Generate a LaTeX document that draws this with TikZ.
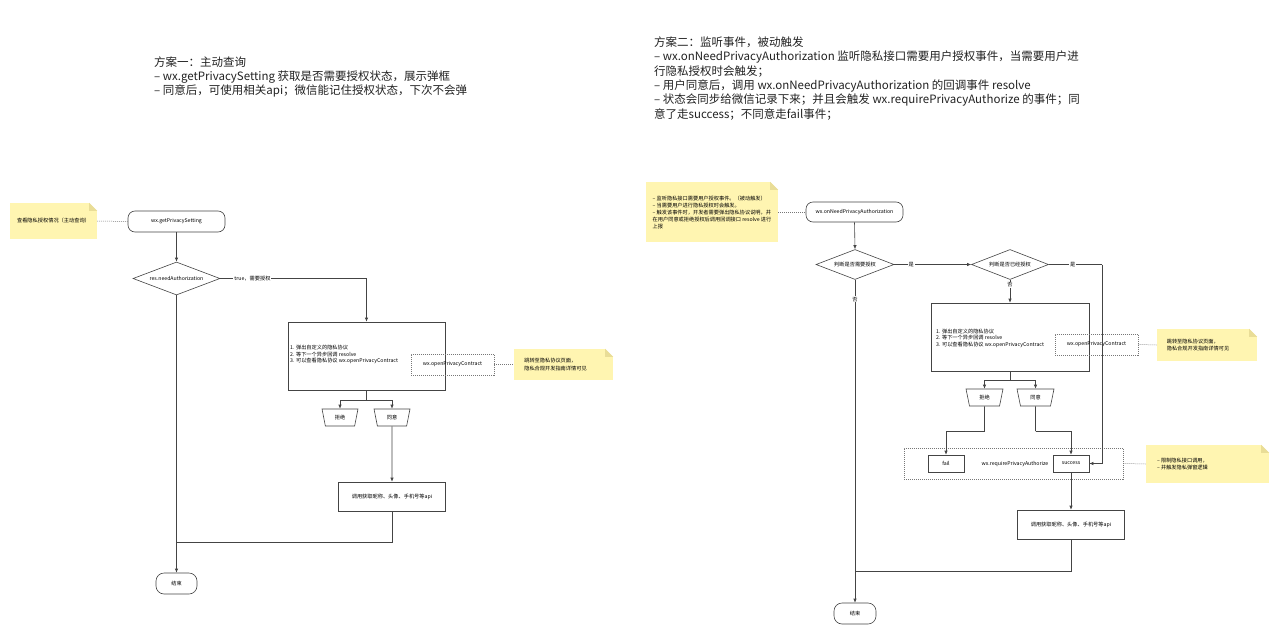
\documentclass[tikz,border=0pt]{standalone}
\usepackage{fontspec}
\setmainfont{Noto Sans CJK SC}
\usetikzlibrary{shapes.geometric,arrows.meta}
\definecolor{notefill}{HTML}{FFF5B1}
\definecolor{notefold}{HTML}{E9DD97}
\definecolor{ln}{HTML}{444444}
\definecolor{dl}{HTML}{777777}
\definecolor{tx}{HTML}{222222}
\tikzset{
  small/.style={font=\fontsize{5.2}{6.5}\selectfont},
  ttl/.style={font=\fontsize{11.5}{14.3}\selectfont, align=left, anchor=west, inner sep=0, text=tx},
  ln/.style={draw=ln, line width=0.6pt},
  arr/.style={ln, -{Latex[length=4pt,width=3.4pt]}},
  dot/.style={draw=dl, line width=0.5pt, dash pattern=on 1pt off 1pt},
  proc/.style={ln, rectangle, fill=white, inner sep=0, small, align=center},
  term/.style={proc, rounded corners=7pt},
  dec/.style={ln, diamond, inner sep=0, fill=white},
  trap/.style={ln, trapezium, trapezium stretches=true, shape border rotate=180,
    trapezium left angle=76, trapezium right angle=76, inner sep=0, fill=white, small},
  notebox/.style={rectangle, fill=notefill, inner sep=0, small, align=left},
  dbox/.style={dot, rectangle, inner sep=0, small},
  lbl/.style={small, fill=white, inner sep=1pt},
}
\newcommand{\fold}[1]{%
  \fill[white] ([xshift=-8pt]#1.north east) -- (#1.north east) -- ([yshift=-8pt]#1.north east) -- cycle;
  \fill[notefold] ([xshift=-8pt]#1.north east) -- ([xshift=-8pt,yshift=-8pt]#1.north east) -- ([yshift=-8pt]#1.north east) -- cycle;}
\begin{document}
\begin{tikzpicture}[x=1pt,y=-1pt]
\useasboundingbox[fill=white] (0,0) rectangle (1279,634);

% titles
\node[ttl] (title1) at (154,77) {方案一：主动查询\\– wx.getPrivacySetting 获取是否需要授权状态，展示弹框\\– 同意后，可使用相关api；微信能记住授权状态，下次不会弹};
\node[ttl] (title2) at (654,78.5) {方案二：监听事件，被动触发\\– wx.onNeedPrivacyAuthorization 监听隐私接口需要用户授权事件，当需要用户进\\行隐私授权时会触发；\\– 用户同意后，调用 wx.onNeedPrivacyAuthorization 的回调事件 resolve\\– 状态会同步给微信记录下来；并且会触发 wx.requirePrivacyAuthorize 的事件；同\\意了走success；不同意走fail事件；};

% ---------------- left flow ----------------
\node[notebox, minimum width=87pt, minimum height=36pt] (n1) at (53.5,221) {查看隐私授权情况（主动查询）};
\fold{n1}
\node[term, minimum width=97pt, minimum height=21pt] (s1) at (176.5,221.5) {wx.getPrivacySetting};
\node[dec, minimum width=87pt, minimum height=33pt] (d1) at (176.5,278.5) {};
\node[small] (d1t) at (d1) {res.needAuthorization};
\node[proc, minimum width=157pt, minimum height=68pt] (b1) at (366.5,356) {};
\node[small, align=left, anchor=west, inner sep=0] (b1t) at (290,354.5) {1. 弹出自定义的隐私协议\\2. 等下一个异步回调 resolve\\3. 可以查看隐私协议 wx.openPrivacyContract};
\node[dbox, minimum width=83pt, minimum height=21pt] (o1) at (452.5,364.5) {wx.openPrivacyContract};
\node[notebox, minimum width=99pt, minimum height=31pt, font=\fontsize{5.2}{8}\selectfont] (n2) at (563.5,364.5) {跳转至隐私协议页面，\\隐私合规开发指南详情可见\hspace*{16pt}};
\fold{n2}
\coordinate (j1) at (366.5,400);
\node[trap, minimum width=36pt, minimum height=17pt] (t1) at (340,417.5) {拒绝};
\node[trap, minimum width=36pt, minimum height=17pt] (t2) at (392,417.5) {同意};
\node[proc, minimum width=107pt, minimum height=29pt] (c1) at (392,496.5) {调用获取昵称、头像、手机号等api};
\node[term, rounded corners=8pt, minimum width=41pt, minimum height=21pt] (e1) at (176.5,583.5) {结束};
\coordinate (j2) at (392,542);

\draw[dot] (n1.east) -- (s1.west);
\draw[arr] (s1.south) -- (d1.north);
\draw[arr] (d1.east) -| node[lbl, pos=0.11] (l1) {true，需要授权} (b1.north);
\draw[arr] (d1.south) -- (e1.north);
\draw[dot] (o1.east) -- (n2.west);
\draw[ln] (b1.south) -- (j1);
\draw[arr] (j1) -| (t1.north);
\draw[arr] (j1) -| (t2.north);
\draw[arr] (t2.south) -- (c1.north);
\draw[ln] (c1.south) -- (j2) -- (j2 -| e1);

% ---------------- right flow ----------------
\node[notebox, minimum width=132pt, minimum height=60pt, font=\fontsize{5.2}{7}\selectfont] (n3) at (712,212) {– 监听隐私接口需要用户授权事件。（被动触发）\\– 当需要用户进行隐私授权时会触发。\\– 触发该事件时，开发者需要弹出隐私协议说明，并\\在用户同意或拒绝授权后调用回调接口 resolve 进行\\上报};
\fold{n3}
\node[term, minimum width=97pt, minimum height=20pt] (s2) at (854.5,212) {wx.onNeedPrivacyAuthorization};
\node[dec, minimum width=78pt, minimum height=30pt] (d2) at (855,264.5) {};
\node[small] (d2t) at (d2) {判断是否需要授权};
\node[dec, minimum width=77pt, minimum height=30pt] (d3) at (1010,264.5) {};
\node[small] (d3t) at (d3) {判断是否已经授权};
\node[proc, minimum width=158pt, minimum height=68pt] (b2) at (1010,337) {};
\node[small, align=left, anchor=west, inner sep=0] (b2t) at (936,338) {1. 弹出自定义的隐私协议\\2. 等下一个异步回调 resolve\\3. 可以查看隐私协议 wx.openPrivacyContract};
\node[dbox, minimum width=83pt, minimum height=21pt] (o2) at (1096.5,344.5) {wx.openPrivacyContract};
\node[notebox, minimum width=100pt, minimum height=32pt, font=\fontsize{5.2}{7}\selectfont] (n4) at (1207,345) {跳转至隐私协议页面，\\隐私合规开发指南详情可见\hspace*{18pt}};
\fold{n4}
\coordinate (j3) at (1010,380);
\node[trap, minimum width=37pt, minimum height=17pt] (t3) at (984.5,397.5) {拒绝};
\node[trap, minimum width=37pt, minimum height=17pt] (t4) at (1035.5,397.5) {同意};
\node[dbox, minimum width=219pt, minimum height=31pt] (g) at (1013.5,463.5) {};
\node[small] (gt) at (1015,464) {wx.requirePrivacyAuthorize};
\node[proc, minimum width=36pt, minimum height=17pt] (f) at (946,463.5) {fail};
\node[proc, minimum width=36pt, minimum height=17pt] (su) at (1071,463.5) {success};
\node[notebox, minimum width=123pt, minimum height=38pt, font=\fontsize{5.2}{6.5}\selectfont] (n5) at (1207.5,464) {– 限制隐私接口调用，\hspace*{50pt}\\– 并触发隐私弹窗逻辑};
\fold{n5}
\node[proc, minimum width=107pt, minimum height=29pt] (c2) at (1071,524.5) {调用获取昵称、头像、手机号等api};
\node[term, rounded corners=8pt, minimum width=42pt, minimum height=21pt] (e2) at (855,613.5) {结束};
\coordinate (j4) at (1071,571);
\coordinate (k1) at (984.5,431);
\coordinate (k2) at (1035.5,431);
\coordinate (k3) at (1102,264.5);

\draw[dot] (n3.east) -- (s2.west);
\draw[arr] (s2.south) -- (d2.north);
\draw[arr] (d2.east) -- node[lbl, pos=0.22] {是} (d3.west);
\draw[arr] (d2.south) -- node[lbl, pos=0.06] {否} (e2.north);
\draw[arr] (d3.south) -- node[lbl, pos=0.22] {否} (b2.north);
\draw[ln] (d3.east) -- node[lbl, pos=0.45] {是} (k3);
\draw[arr] (k3) |- (su.east);
\draw[dot] (o2.east) -- (n4.west);
\draw[ln] (b2.south) -- (j3);
\draw[arr] (j3) -| (t3.north);
\draw[arr] (j3) -| (t4.north);
\draw[ln] (t3.south) -- (k1);
\draw[arr] (k1) -| (f.north);
\draw[ln] (t4.south) -- (k2);
\draw[arr] (k2) -| (su.north);
\draw[dot] (g.east) -- (n5.west);
\draw[arr] (su.south) -- (c2.north);
\draw[ln] (c2.south) -- (j4) -- (j4 -| e2);
\end{tikzpicture}
\end{document}
